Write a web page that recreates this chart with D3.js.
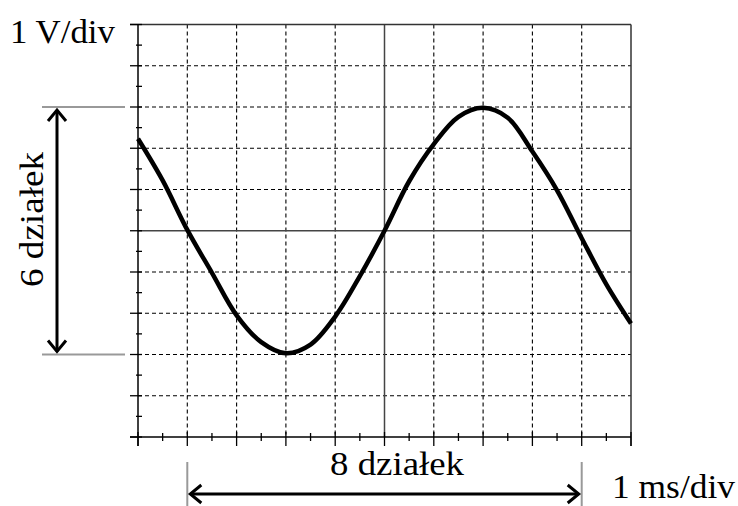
<!DOCTYPE html>
<html>
<head>
<meta charset="utf-8">
<script src="https://cdnjs.cloudflare.com/ajax/libs/d3/7.8.5/d3.min.js"></script>
<style>
  body { margin: 0; background: #fff; }
  svg { display: block; }
</style>
</head>
<body>
<div id="chart"></div>
<script>
// time in ms (1 ms/div), voltage in V (1 V/div)
var timeMs = [0, 0.5, 1, 1.5, 2, 2.5, 3, 3.5, 4, 4.5, 5, 5.5, 6, 6.5, 7, 7.5, 8, 8.5, 9, 9.5, 10];
var voltV  = [2.23, 1.22, 0.02, -1.02, -2.05, -2.7, -2.97, -2.76, -2.08, -1.1, 0, 1.2, 2.1, 2.76, 2.98, 2.74, 1.92, 0.98, -0.18, -1.3, -2.25];

var xDivs = d3.range(0, 11);        // horizontal divisions
var yDivs = d3.range(-5, 6);        // vertical divisions
var xMinor = d3.range(0.5, 10, 1);
var yMinor = d3.range(-4.5, 5, 1);

var vLabel = "1 V/div";
var tLabel = "1 ms/div";
var ampLabel = "6 działek";
var perLabel = "8 działek";
var ampSpan = [-3, 3];    // 6 divisions
var perSpan = [1, 9];     // 8 divisions

var serif = "'Liberation Serif', 'Times New Roman', Times, serif";

var width = 738, height = 506;
var svg = d3.select("#chart").append("svg")
    .attr("width", width)
    .attr("height", height);

var x = d3.scaleLinear().domain([0, 10]).range([138, 631]);
var y = d3.scaleLinear().domain([-5, 5]).range([437, 24.5]);

// dashed grid
var grid = svg.append("g").attr("class", "grid");
grid.selectAll(".vgrid")
    .data(xDivs.filter(function(d){ return d > 0 && d < 10 && d != 5; }))
    .enter().append("line")
    .attr("x1", function(d){ return x(d); })
    .attr("x2", function(d){ return x(d); })
    .attr("y1", y(5)).attr("y2", y(-5))
    .attr("stroke", "#000").attr("stroke-width", 1.1)
    .attr("stroke-dasharray", "4,3");
grid.selectAll(".hgrid")
    .data(yDivs.filter(function(d){ return d > -5 && d < 5 && d != 0; }))
    .enter().append("line")
    .attr("y1", function(d){ return y(d); })
    .attr("y2", function(d){ return y(d); })
    .attr("x1", x(0)).attr("x2", x(10))
    .attr("stroke", "#000").attr("stroke-width", 1.1)
    .attr("stroke-dasharray", "4,3");

// centre lines
grid.append("line")
    .attr("x1", x(5)).attr("x2", x(5)).attr("y1", y(5)).attr("y2", y(-5))
    .attr("stroke", "#444").attr("stroke-width", 1.5);
grid.append("line")
    .attr("x1", x(0)).attr("x2", x(10)).attr("y1", y(0)).attr("y2", y(0))
    .attr("stroke", "#444").attr("stroke-width", 1.5);

// frame: top and right
svg.append("line")
    .attr("x1", x(0) - 8).attr("x2", x(10)).attr("y1", y(5)).attr("y2", y(5))
    .attr("stroke", "#333").attr("stroke-width", 1.5);
svg.append("line")
    .attr("x1", x(10)).attr("x2", x(10)).attr("y1", y(5)).attr("y2", y(-5) + 9)
    .attr("stroke", "#333").attr("stroke-width", 1.5);

// left and bottom axes with ticks
var axes = svg.append("g").attr("class", "axes");
axes.append("line")
    .attr("x1", x(0)).attr("x2", x(0)).attr("y1", y(5)).attr("y2", y(-5) + 9)
    .attr("stroke", "#000").attr("stroke-width", 1.5);
axes.append("line")
    .attr("x1", x(0) - 8).attr("x2", x(10)).attr("y1", y(-5)).attr("y2", y(-5))
    .attr("stroke", "#000").attr("stroke-width", 1.5);

axes.selectAll(".ymaj").data(yDivs).enter().append("line")
    .attr("x1", x(0) - 8).attr("x2", x(0) + 4)
    .attr("y1", function(d){ return y(d); }).attr("y2", function(d){ return y(d); })
    .attr("stroke", "#000").attr("stroke-width", 1.3);
axes.selectAll(".ymin").data(yMinor).enter().append("line")
    .attr("x1", x(0) - 2).attr("x2", x(0) + 4)
    .attr("y1", function(d){ return y(d); }).attr("y2", function(d){ return y(d); })
    .attr("stroke", "#000").attr("stroke-width", 1.3);
axes.selectAll(".xmaj").data(xDivs).enter().append("line")
    .attr("x1", function(d){ return x(d); }).attr("x2", function(d){ return x(d); })
    .attr("y1", y(-5) - 5).attr("y2", y(-5) + 9)
    .attr("stroke", "#000").attr("stroke-width", 1.3);
axes.selectAll(".xmin").data(xMinor).enter().append("line")
    .attr("x1", function(d){ return x(d); }).attr("x2", function(d){ return x(d); })
    .attr("y1", y(-5) - 4).attr("y2", y(-5) + 4)
    .attr("stroke", "#000").attr("stroke-width", 1.3);

// the trace
var trace = timeMs.map(function(t, i){ return [t, voltV[i]]; });
var line = d3.line()
    .x(function(d){ return x(d[0]); })
    .y(function(d){ return y(d[1]); })
    .curve(d3.curveCatmullRom.alpha(0.5));
svg.append("path")
    .datum(trace)
    .attr("d", line)
    .attr("fill", "none")
    .attr("stroke", "#000")
    .attr("stroke-width", 4.5)
    .attr("stroke-linejoin", "round");

// amplitude marker (6 divisions)
var ann = svg.append("g").attr("class", "annot");
ampSpan.forEach(function(v){
    ann.append("line")
        .attr("x1", 42).attr("x2", 125)
        .attr("y1", y(v)).attr("y2", y(v))
        .attr("stroke", "#999").attr("stroke-width", 2);
});
var ax = 57;
ann.append("line")
    .attr("x1", ax).attr("x2", ax)
    .attr("y1", y(ampSpan[1]) + 3).attr("y2", y(ampSpan[0]) - 3)
    .attr("stroke", "#000").attr("stroke-width", 3);
[[y(ampSpan[1]) + 3, 1], [y(ampSpan[0]) - 3, -1]].forEach(function(a){
    ann.append("path")
        .attr("d", "M" + (ax - 9) + "," + (a[0] + a[1] * 11) + "L" + ax + "," + a[0] + "L" + (ax + 9) + "," + (a[0] + a[1] * 11))
        .attr("fill", "none").attr("stroke", "#000").attr("stroke-width", 3);
});

// period marker (8 divisions)
perSpan.forEach(function(t){
    ann.append("line")
        .attr("x1", x(t)).attr("x2", x(t))
        .attr("y1", 462).attr("y2", 506)
        .attr("stroke", "#999").attr("stroke-width", 2);
});
var ay = 494;
ann.append("line")
    .attr("x1", x(perSpan[0]) + 3).attr("x2", x(perSpan[1]) - 3)
    .attr("y1", ay).attr("y2", ay)
    .attr("stroke", "#000").attr("stroke-width", 3);
[[x(perSpan[0]) + 3, 1], [x(perSpan[1]) - 3, -1]].forEach(function(a){
    ann.append("path")
        .attr("d", "M" + (a[0] + a[1] * 11) + "," + (ay - 9) + "L" + a[0] + "," + ay + "L" + (a[0] + a[1] * 11) + "," + (ay + 9))
        .attr("fill", "none").attr("stroke", "#000").attr("stroke-width", 3);
});

// labels
function label(txt, len, xPos, yPos, rot) {
    var t = svg.append("text")
        .attr("font-family", serif)
        .attr("font-size", 33)
        .attr("fill", "#000")
        .attr("textLength", len).attr("lengthAdjust", "spacingAndGlyphs")
        .text(txt);
    if (rot) t.attr("transform", "translate(" + xPos + "," + yPos + ") rotate(-90)");
    else t.attr("x", xPos).attr("y", yPos);
}
label(vLabel, 105, 10, 43);
label(tLabel, 123, 612, 498);
label(perLabel, 134, 330, 475);
label(ampLabel, 135, 43, 287, true);
</script>
</body>
</html>
